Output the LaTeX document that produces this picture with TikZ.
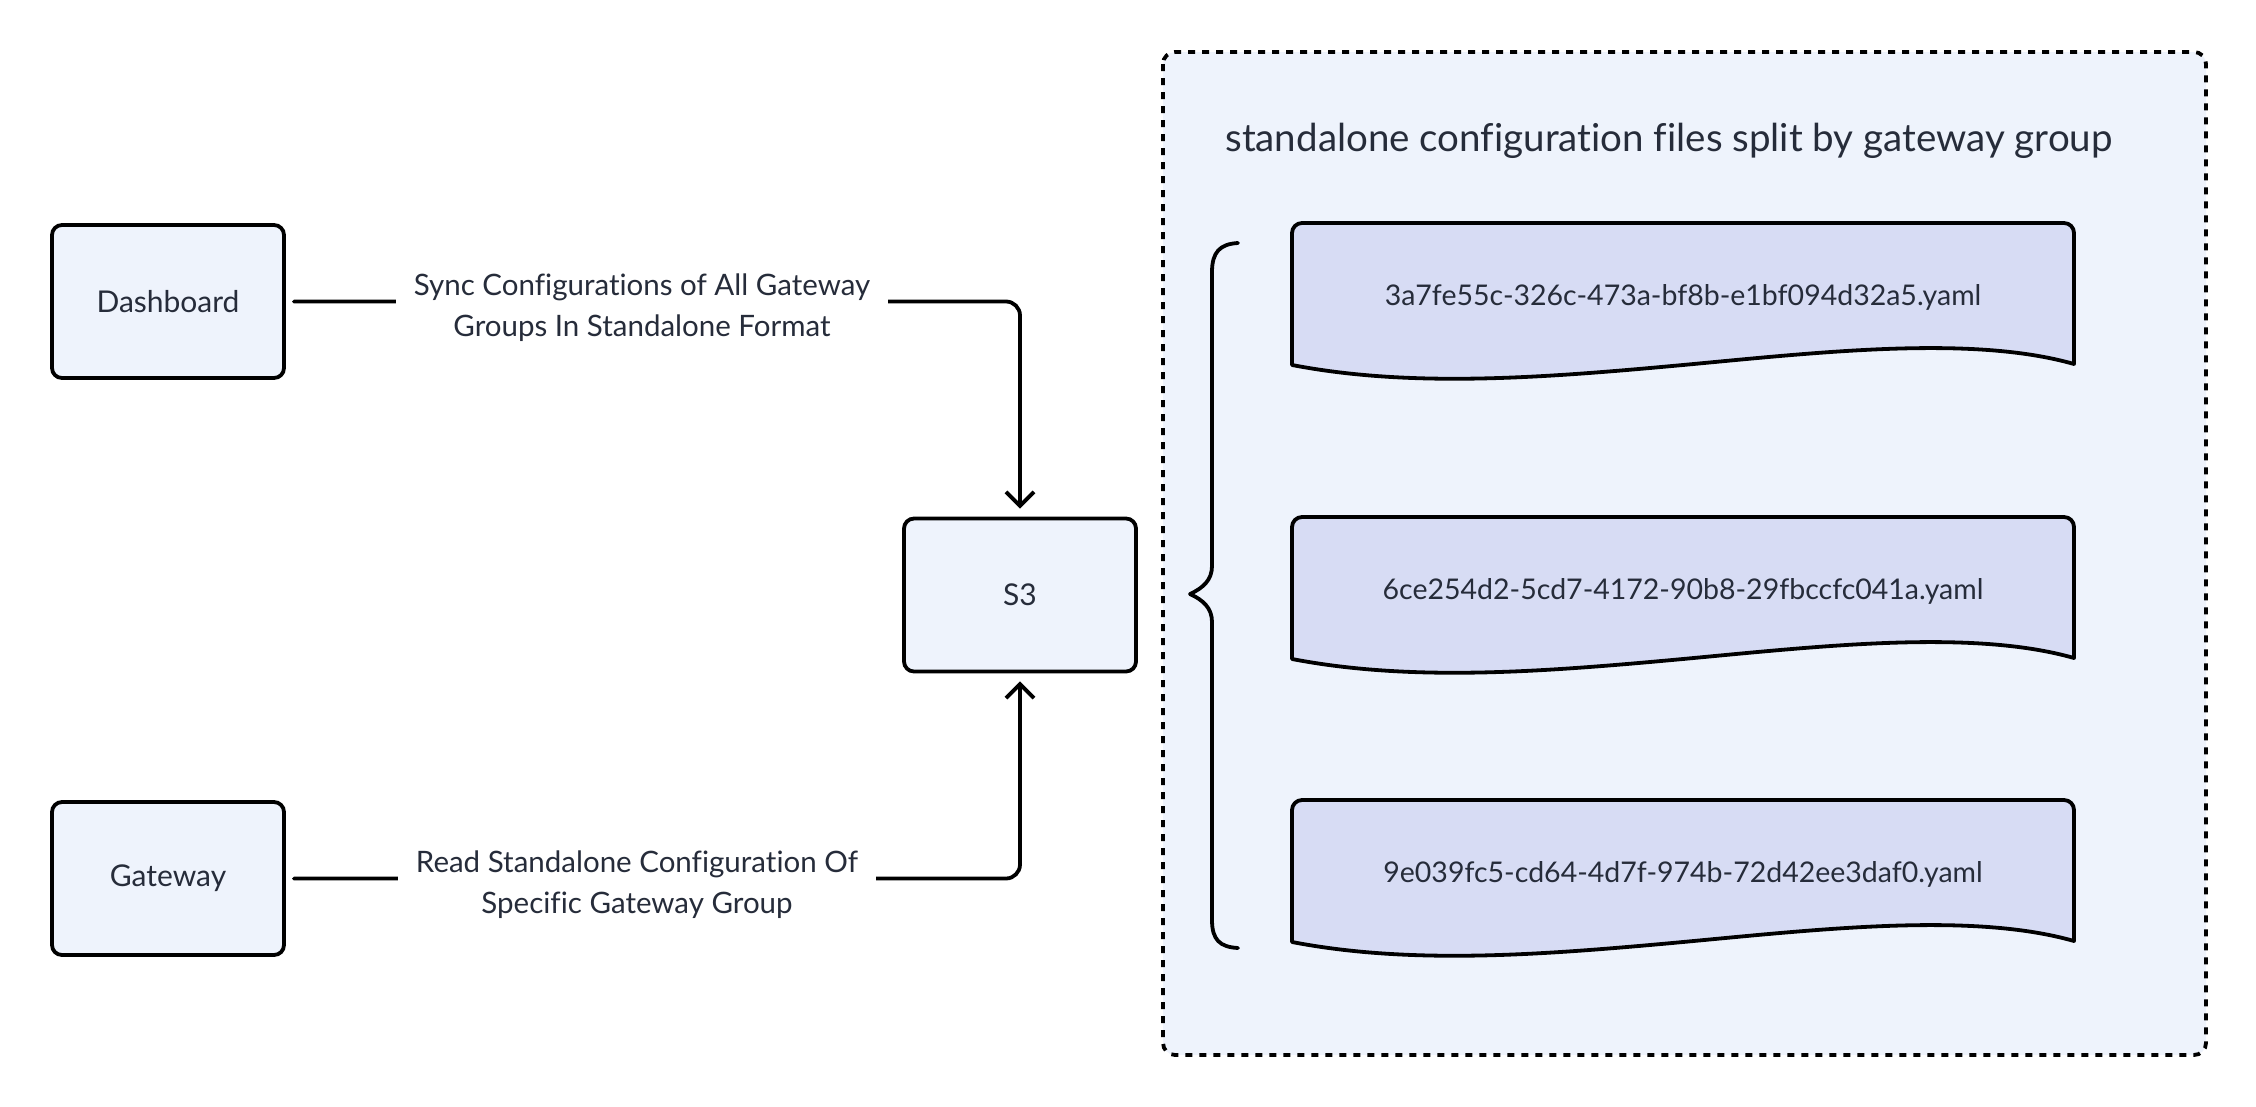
\documentclass[tikz,border=0pt]{standalone}
\usepackage{fontspec}
\setmainfont{Lato}[Ligatures={NoCommon}]
\usetikzlibrary{arrows.meta,calc}
\definecolor{boxfill}{HTML}{EEF3FC}
\definecolor{docfill}{HTML}{D7DCF4}
\definecolor{txt}{HTML}{262C3A}
\tikzset{
  box/.style={draw=black, line width=3.8pt, fill=boxfill, rounded corners=10pt,
    minimum width=232pt, minimum height=153pt, text=txt, font=\fontsize{30}{36}\selectfont},
  conn/.style={line width=3.8pt, rounded corners=14pt, line cap=round,
    -{Straight Barb[length=14pt,width=28pt]}, shorten <=8pt, shorten >=8pt},
  elabel/.style={fill=white, text=txt, align=center, inner xsep=18pt,
    font=\fontsize{29.5}{41}\selectfont},
  docline/.style={draw=black, line width=3.8pt, fill=docfill, line join=round},
  doctext/.style={text=txt, font=\fontsize{28.5}{34}\selectfont},
  container/.style={draw=black, line width=3.8pt, dash pattern=on 7pt off 7pt,
    fill=boxfill, rounded corners=12pt},
}
\begin{document}
\begin{tikzpicture}[x=1pt,y=-1pt]
\useasboundingbox (0,0) rectangle (2256,1106);
% container
\draw[container] (1163,52) rectangle (2206,1055);
\node[text=txt, font=\fontsize{38.5}{44}\selectfont] (title) at (1669,141) {standalone configuration files split by gateway group};
% nodes
\node[box] (dash) at (168,301.5) {\raisebox{-3pt}{Dashboard}};
\node[box] (gw) at (168,878.5) {\raisebox{-3pt}{Gateway}};
\node[box] (s3) at (1020,595) {\raisebox{-3pt}{S3}};
% connectors
\draw[conn] (dash.east) -- (dash.east -| s3.north) -- (s3.north);
\draw[conn] (gw.east) -- (gw.east -| s3.south) -- (s3.south);
\node[elabel] (l1) at (642,307.5) {Sync Configurations of All Gateway\\Groups In Standalone Format};
\node[elabel] (l2) at (637,884.5) {Read Standalone Configuration Of\\Specific Gateway Group};
% brace
\draw[line width=3.8pt, line cap=round, line join=round]
  (1238,243) .. controls (1220,244) and (1212,252) .. (1212,272)
  -- (1212,566) .. controls (1212,580) and (1203,588) .. (1190,594)
  .. controls (1203,600) and (1212,608) .. (1212,622)
  -- (1212,920) .. controls (1212,940) and (1220,947) .. (1238,948);
% documents
\foreach \T/\name/\fname in {223/f1/3a7fe55c-326c-473a-bf8b-e1bf094d32a5.yaml,
                             517/f2/6ce254d2-5cd7-4172-90b8-29fbccfc041a.yaml,
                             800/f3/9e039fc5-cd64-4d7f-974b-72d42ee3daf0.yaml}{
  \begin{scope}[shift={(1292,\T)}]
    \draw[docline] (0,142) -- (0,10) arc[start angle=180,end angle=270,radius=10]
      -- (772,0) arc[start angle=270,end angle=360,radius=10] -- (782,141)
      .. controls (680,112) and (530,129) .. (391,142)
      .. controls (250,155) and (120,165) .. (0,142) -- cycle;
    \node[doctext] (\name) at (391,74) {\fname};
  \end{scope}
}
\end{tikzpicture}
\end{document}
